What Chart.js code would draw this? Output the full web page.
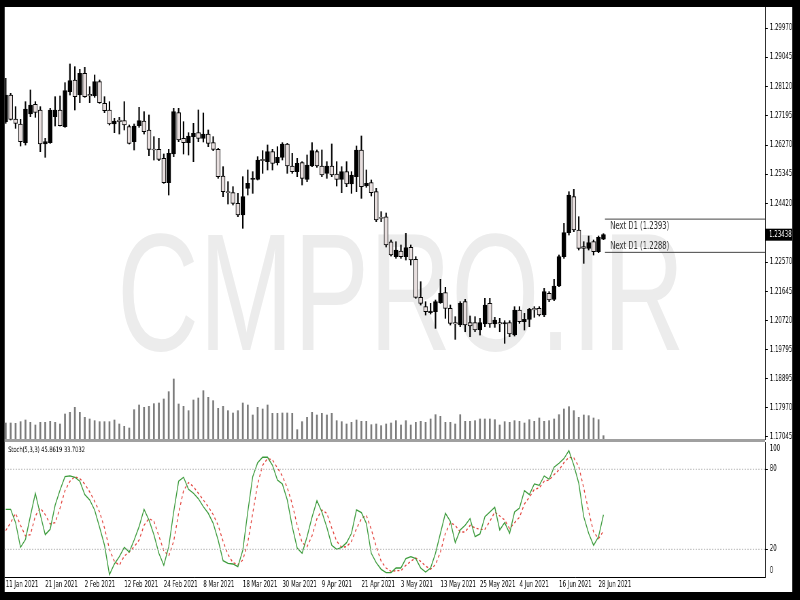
<!DOCTYPE html>
<html>
<head>
<meta charset="utf-8">
<script src="https://cdn.jsdelivr.net/npm/chart.js@4.4.0/dist/chart.umd.min.js"></script>
<style>
  body { margin: 0; background: #000; overflow: hidden; }
  #wrap { position: absolute; left: 0; top: 0; width: 1176px; height: 600px; transform: scaleX(0.68); transform-origin: 0 0; }
  #panel { position: absolute; left: 7px; top: 7px; width: 1158px; height: 585px; background: #fff; }
  #wm { position: absolute; left: 172px; top: 209px; font: 167px/167px "Liberation Sans", Arial, sans-serif; color: #ececec; white-space: nowrap; }
  #sep { position: absolute; left: 7px; top: 439px; width: 1118px; height: 3px; background: #a0a0a0; }
  canvas { position: absolute; left: 7px; }
  #price { top: 7px; }
  #stoch { top: 441px; }
</style>
</head>
<body>
<div id="wrap">
  <div id="panel"></div>
  <div id="wm">CMPRO.IR</div>
  <canvas id="price" width="1158" height="437"></canvas>
  <canvas id="stoch" width="1158" height="151"></canvas>
  <div id="sep"></div>
</div>
<script>
// daily GBPUSD-style bars, 11 Jan 2021 .. 29 Jun 2021
const opens = [1.27010,1.27853,1.27094,1.26936,1.26346,1.27252,1.27558,1.27379,1.26304,1.26346,
  1.27168,1.27379,1.26852,1.27958,1.28327,1.27853,1.28538,1.27874,1.27821,1.28274,
  1.27589,1.27379,1.26936,1.27063,1.27042,1.26852,1.26378,1.26884,1.27031,1.26747,
  1.26136,1.26136,1.25851,1.25082,1.25988,1.27294,1.26483,1.26346,1.26536,1.26662,
  1.26483,1.26621,1.26347,1.26136,1.25293,1.24798,1.24766,1.24429,1.24060,1.24903,
  1.25188,1.25188,1.25820,1.25746,1.26062,1.25714,1.25883,1.26305,1.25609,1.25430,
  1.25714,1.25188,1.25609,1.26062,1.25609,1.25377,1.25609,1.25356,1.25188,1.25430,
  1.25040,1.25272,1.26115,1.24977,1.25083,1.24798,1.23987,1.24006,1.23216,1.22742,
  1.22922,1.22743,1.23038,1.22659,1.21458,1.21163,1.20973,1.21005,1.21289,1.21605,
  1.21110,1.20657,1.20583,1.21321,1.20657,1.20657,1.20425,1.20615,1.21268,1.20615,
  1.20657,1.20615,1.20657,1.20267,1.21057,1.20689,1.20762,1.21110,1.21110,1.20899,
  1.21584,1.21394,1.21816,1.22743,1.23501,1.24639,1.23586,1.23059,1.23006,1.23217,
  1.22901,1.23300];
const highs = [1.28380,1.27906,1.27484,1.27084,1.27642,1.28011,1.27642,1.27484,1.26483,1.27431,
  1.27800,1.27821,1.28243,1.28833,1.28748,1.28664,1.28727,1.28116,1.28485,1.28327,
  1.27800,1.27642,1.27115,1.27147,1.27642,1.26905,1.26936,1.27463,1.27326,1.27221,
  1.26536,1.26483,1.25988,1.26136,1.27431,1.27431,1.27010,1.26662,1.26957,1.27379,
  1.27284,1.26747,1.26536,1.26168,1.25588,1.25114,1.24956,1.24745,1.25272,1.25483,
  1.25430,1.25904,1.26094,1.26273,1.26136,1.26220,1.26347,1.26326,1.26009,1.25852,
  1.25746,1.25957,1.26347,1.26115,1.26115,1.25746,1.26305,1.25746,1.25588,1.25746,
  1.25430,1.26241,1.26557,1.25483,1.25167,1.24903,1.24166,1.24123,1.23270,1.23216,
  1.23112,1.23480,1.23112,1.22743,1.21953,1.21321,1.21268,1.21373,1.22027,1.21774,
  1.21215,1.20847,1.21321,1.21394,1.20868,1.20847,1.20794,1.21426,1.21426,1.20826,
  1.20794,1.20720,1.20720,1.21163,1.21163,1.20952,1.21110,1.21163,1.21163,1.21742,
  1.21637,1.22027,1.22796,1.23796,1.24797,1.24871,1.24007,1.23217,1.23396,1.23270,
  1.23396,1.23470];
const lows = [1.26957,1.27063,1.26799,1.26241,1.26272,1.27168,1.27147,1.26062,1.25883,1.26325,
  1.26873,1.26873,1.26831,1.27853,1.27379,1.27611,1.27779,1.27611,1.27779,1.27589,
  1.27294,1.26905,1.26662,1.26620,1.26747,1.26304,1.26115,1.26831,1.26620,1.25935,
  1.25798,1.25777,1.25061,1.24692,1.25904,1.26378,1.25988,1.25956,1.25746,1.26378,
  1.26368,1.26220,1.26094,1.25219,1.24640,1.24408,1.24377,1.24008,1.23639,1.24693,
  1.24745,1.25167,1.25377,1.25483,1.25483,1.25641,1.25799,1.25377,1.25377,1.25272,
  1.25009,1.25114,1.25588,1.25567,1.25272,1.25219,1.25272,1.24977,1.24766,1.24956,
  1.24745,1.24798,1.24587,1.24935,1.24661,1.23850,1.23850,1.23049,1.22764,1.22692,
  1.22690,1.22638,1.22480,1.21426,1.21215,1.20899,1.20931,1.20478,1.21268,1.20794,
  1.20583,1.20130,1.20530,1.20372,1.20214,1.20372,1.20267,1.20530,1.20509,1.20509,
  1.20372,1.20004,1.20214,1.20236,1.20636,1.20425,1.20530,1.20826,1.20868,1.20847,
  1.21321,1.21352,1.21795,1.22690,1.23428,1.23533,1.22954,1.22532,1.22954,1.22796,
  1.22869,1.23280];
const closes = [1.27853,1.27084,1.26957,1.26378,1.27410,1.27537,1.27305,1.26304,1.26378,1.27379,
  1.27379,1.26884,1.27990,1.28306,1.27800,1.28538,1.27800,1.27821,1.28274,1.27611,
  1.27358,1.26936,1.27031,1.27010,1.26905,1.26325,1.26873,1.27042,1.26694,1.26136,
  1.26115,1.25819,1.25082,1.26009,1.27326,1.26431,1.26346,1.26557,1.26641,1.26483,
  1.26621,1.26326,1.26136,1.25272,1.24798,1.24766,1.24429,1.24060,1.24640,1.25061,
  1.25219,1.25799,1.25778,1.26062,1.25693,1.25883,1.26305,1.25609,1.25430,1.25693,
  1.25219,1.25641,1.26094,1.25609,1.25325,1.25609,1.25325,1.25188,1.25430,1.25040,
  1.25325,1.26115,1.24956,1.25061,1.24766,1.23902,1.23955,1.23112,1.22796,1.22954,
  1.22743,1.23027,1.22638,1.21458,1.21268,1.21005,1.21026,1.21321,1.21584,1.21110,
  1.20636,1.20615,1.21268,1.20583,1.20552,1.20425,1.20657,1.21215,1.20615,1.20741,
  1.20615,1.20657,1.20299,1.21057,1.20689,1.20762,1.21078,1.21057,1.20899,1.21637,
  1.21373,1.21816,1.22743,1.23501,1.24692,1.23586,1.23006,1.23006,1.23185,1.22901,
  1.23354,1.23438];
const volumes = [48,48,47,52,57,50,42,50,50,53, 50,45,75,80,95,80,65,60,55,52,
  52,52,57,45,38,33,88,102,95,98, 106,108,120,142,180,105,98,85,117,123,
  145,125,115,92,98,85,78,85,108,102, 72,95,90,102,77,77,78,78,77,28,
  52,65,80,72,77,72,77,55,52,45, 50,57,53,53,43,45,40,45,48,55,
  42,55,42,50,53,50,60,73,68,50, 50,45,73,53,53,55,60,60,60,58,
  42,52,50,55,53,48,58,53,63,53, 55,60,73,90,97,85,65,72,70,63,
  58,10];
const stochMain = [50,50,40,21.5,27.5,45,62,46,31,35, 53,64.5,74.5,75,74,71,61,57,49.5,36.5,
  23,1,9,14.5,21.5,18,27,37,50,42, 31,17,8,22,48,71,74,65,62,58,
  52,47,39.5,27,11.5,9.5,9,7,19.5,48, 74.5,85,89,89,83,72,69,57,37,21,
  17,29.5,44,56.5,48,36.5,23,20,21.5,25, 32,49.5,47.5,39.5,17,10,5,2.5,2.5,6,
  6,13,14.5,13,6,3,6,17,32,47, 41,25,34.5,38,43,29.5,31.5,44.5,48,51.5,
  34.5,40,32,48,51,64,61,69,68,75, 72.5,81.5,84.5,88,94,83,69.5,44.5,32,23,
  29.5,45.8619];
const stochSignal = [34,40,47,38,30,31,45,51,46,39, 40,51,64,71,74.5,73,69,63,56,48,
  36,20,11,8,15,18,22,27,38,43, 41,30,19,15,26,47,64,70,67,62,
  57,52,46,38,26,16,10,8.5,12,25, 47,69,83,88,87,81,75,66,54,38,
  25,22,30,43,49.5,47,36,26,21.5,22, 26,35.5,43,45.5,35,22,11,6,3.5,4,
  4,8,11,13.5,11,7.5,5,8.5,18,32, 40,38,33,33,38,36,35,35,41,48,
  45,42,35.5,40,44,54,59,65,66,71, 72,76,79.5,85,89,88.5,82,66,48.5,33,
  28,33.7032];
const priceTicks = [1.29970,1.29045,1.28120,1.27195,1.26270,1.25345,1.24420,1.22570,1.21645,1.20720,1.19795,1.18895,1.17970,1.17045];
const nextLevels = [1.2393, 1.2288];
const stochTicks = [0, 20, 80, 100];
const stochLevels = [20, 80];
const dateLabels = ['11 Jan 2021','21 Jan 2021','2 Feb 2021','12 Feb 2021','24 Feb 2021','8 Mar 2021','18 Mar 2021','30 Mar 2021',
  '9 Apr 2021','21 Apr 2021','3 May 2021','13 May 2021','25 May 2021','4 Jun 2021','16 Jun 2021','28 Jun 2021'];
const dateBars = [0,8,16,24,32,40,48,56,64,72,80,88,96,104,112,120];

const xMin = -0.19, xMax = 153.7;
const nextStart = 121.3;

Chart.defaults.font.family = '"DejaVu Sans", sans-serif';
Chart.defaults.font.size = 8;
Chart.defaults.color = '#000';

const idx = opens.map((_, i) => i);

const priceExtras = {
  id: 'priceExtras',
  afterDraw(chart) {
    const { ctx, scales: { x, y }, chartArea } = chart;
    ctx.save();
    ctx.font = '10px "DejaVu Sans"';
    ctx.fillStyle = '#333';
    ctx.textBaseline = 'middle';
    const lx = x.getPixelForValue(nextStart) + 8;
    ctx.fillText('Next D1 (' + nextLevels[0] + ')', lx, y.getPixelForValue(nextLevels[0]) + 7);
    ctx.fillText('Next D1 (' + nextLevels[1] + ')', lx, y.getPixelForValue(nextLevels[1]) - 6);
    // current price marker
    const last = closes[closes.length - 1];
    const py = y.getPixelForValue(last);
    ctx.fillStyle = '#000';
    ctx.fillRect(chartArea.right + 1, py - 6, chart.width - chartArea.right, 12);
    ctx.fillStyle = '#fff';
    ctx.font = '8px "DejaVu Sans"';
    ctx.fillText(last.toFixed(5), chartArea.right + 6, py);
    ctx.restore();
  }
};

new Chart(document.getElementById('price'), {
  type: 'bar',
  data: {
    datasets: [
      { type: 'line', data: [{ x: nextStart, y: nextLevels[0] }, { x: xMax, y: nextLevels[0] }],
        borderColor: '#444', borderWidth: 1, pointRadius: 0, order: 0 },
      { type: 'line', data: [{ x: nextStart, y: nextLevels[1] }, { x: xMax, y: nextLevels[1] }],
        borderColor: '#444', borderWidth: 1, pointRadius: 0, order: 0 },
      { label: 'body', data: idx.map(i => ({ x: i, y: [opens[i], closes[i]] })),
        backgroundColor: idx.map(i => closes[i] > opens[i] ? '#000' : '#e8dfdf'),
        borderColor: '#000', borderWidth: 1, borderSkipped: false, minBarLength: 1,
        barThickness: 6, grouped: false, order: 1 },
      { label: 'wick', data: idx.map(i => ({ x: i, y: [lows[i], highs[i]] })),
        backgroundColor: '#000', barThickness: 1.5, grouped: false, order: 2 },
      { label: 'volume', yAxisID: 'v', data: idx.map(i => ({ x: i, y: volumes[i] })),
        backgroundColor: '#7a7a7a', barThickness: 2, grouped: false, order: 3 }
    ]
  },
  options: {
    responsive: false,
    animation: false,
    events: [],
    layout: { padding: { top: 0, left: 0, right: 0, bottom: 5 } },
    plugins: { legend: { display: false }, tooltip: { enabled: false } },
    scales: {
      x: { type: 'linear', min: xMin, max: xMax, offset: false, display: false },
      y: {
        position: 'right', min: 1.16981, max: 1.30634,
        afterBuildTicks: s => { s.ticks = priceTicks.map(v => ({ value: v })); },
        afterFit: s => { s.width = 40; s.paddingTop = 0; s.paddingBottom = 0; },
        ticks: { padding: 3, autoSkip: false, callback: v => v.toFixed(5) },
        grid: { drawOnChartArea: false, tickLength: 4, color: '#000' },
        border: { color: '#000' }
      },
      v: { display: false, min: 0, max: 1296 }
    }
  },
  plugins: [priceExtras]
});

const stochExtras = {
  id: 'stochExtras',
  afterDraw(chart) {
    const { ctx, scales: { y }, chartArea } = chart;
    ctx.save();
    ctx.font = '7.5px "DejaVu Sans"';
    ctx.fillStyle = '#000';
    ctx.textBaseline = 'middle';
    ctx.fillText('Stoch(5,3,3) ' + stochMain[stochMain.length - 1].toFixed(4) + ' ' + stochSignal[stochSignal.length - 1].toFixed(4), chartArea.left + 5, chartArea.top + 8);
    ctx.font = '8px "DejaVu Sans"';
    ctx.fillText(String(stochTicks[3]), chartArea.right + 7, y.getPixelForValue(stochTicks[3]) + 6);
    ctx.fillText(String(stochTicks[0]), chartArea.right + 7, y.getPixelForValue(stochTicks[0]) - 5);
    ctx.restore();
  }
};

new Chart(document.getElementById('stoch'), {
  type: 'line',
  data: {
    datasets: [
      ...stochLevels.map(l => ({ data: [{ x: xMin, y: l }, { x: xMax, y: l }], borderColor: '#b8b8b8',
        borderWidth: 1, borderDash: [2, 2], pointRadius: 0 })),
      { label: 'main', data: idx.map(i => ({ x: i, y: stochMain[i] })), borderColor: '#3a9a3a',
        borderWidth: 1.3, pointRadius: 0, tension: 0 },
      { label: 'signal', data: idx.map(i => ({ x: i, y: stochSignal[i] })), borderColor: '#e2403a',
        borderWidth: 1.3, borderDash: [3, 3], pointRadius: 0, tension: 0 }
    ]
  },
  options: {
    responsive: false,
    animation: false,
    events: [],
    layout: { padding: { top: 1, left: 0, right: 0, bottom: 0 } },
    plugins: { legend: { display: false }, tooltip: { enabled: false } },
    scales: {
      x: {
        type: 'linear', min: xMin, max: xMax, offset: false,
        afterBuildTicks: s => { s.ticks = dateBars.map(v => ({ value: v })); },
        afterFit: s => { s.height = 15; s.paddingLeft = 0; s.paddingRight = 0; },
        ticks: { autoSkip: false, maxRotation: 0, align: 'start', padding: 3, callback: (v, i) => dateLabels[i] },
        grid: { drawOnChartArea: false, drawTicks: false },
        border: { color: '#000' }
      },
      y: {
        position: 'right', min: -0.75, max: 100.45,
        afterBuildTicks: s => { s.ticks = stochLevels.map(v => ({ value: v })); },
        afterFit: s => { s.width = 40; s.paddingTop = 0; s.paddingBottom = 0; },
        ticks: { padding: 3, autoSkip: false },
        grid: { drawOnChartArea: false, tickLength: 4, color: '#000' },
        border: { color: '#000' }
      }
    }
  },
  plugins: [stochExtras]
});
</script>
</body>
</html>
